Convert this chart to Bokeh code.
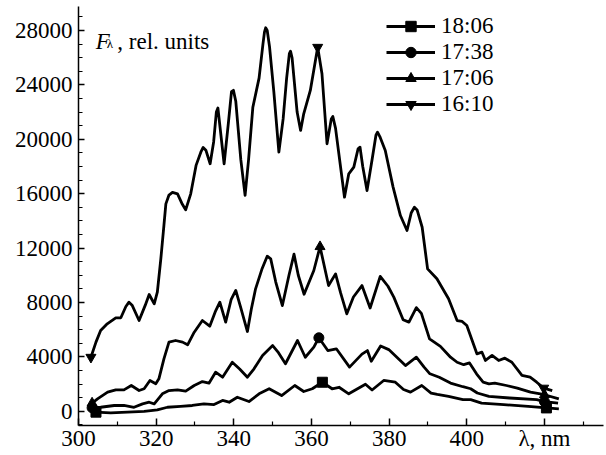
from bokeh.plotting import figure
from bokeh.models import Legend, LegendItem, Label, FixedTicker, Range1d
from bokeh.embed import file_html
from bokeh.resources import INLINE

# ---------------- data ----------------
series_labels = ["18:06", "17:38", "17:06", "16:10"]
series_markers = ["square", "circle", "triangle", "inverted_triangle"]

x_1806 = [304.5, 308.3, 312.6, 316.9, 320.3, 322.9, 326.3, 329.3, 332.3, 334.9, 337.1, 338.8,
          340.9, 343.9, 346.5, 349.1, 352.3, 355.7, 358.0, 360.2, 362.8, 365.3, 367.1, 369.6,
          373.9, 375.6, 378.6, 381.6, 383.7, 385.5, 388.4, 390.8, 392.4, 395.3, 399.0, 401.0,
          403.8, 409.5, 415.8, 420.5, 423.7]
y_1806 = [-70, -120, -70, -20, 100, 290, 350, 420, 540, 490, 790, 660,
          1030, 710, 1280, 1650, 1150, 1890, 1450, 1650, 2130, 1650, 1760, 1280,
          1980, 1560, 2260, 2130, 1600, 1400, 1890, 1330, 1230, 1090, 850, 850,
          600, 480, 360, 240, 170]

x_1738 = [303.5, 305.7, 309.2, 311.7, 314.3, 316.5, 318.2, 319.5, 321.6, 323.3, 325.5, 327.6,
          329.8, 331.9, 333.6, 335.3, 337.1, 339.6, 341.5, 343.5, 345.2, 347.4, 350.0, 351.5,
          353.3, 356.4, 358.4, 360.6, 361.9, 364.2, 366.4, 369.8, 373.0, 374.4, 375.4, 377.8,
          379.9, 384.2, 387.0, 389.0, 390.5, 392.9, 395.8, 399.0, 401.0, 402.7, 405.7, 411.0,
          418.0, 420.0, 423.5]
y_1738 = [250, 290, 420, 420, 290, 540, 660, 540, 1280, 1520, 1570, 1470,
          1890, 2180, 2060, 2870, 2500, 3600, 3100, 2500, 3120, 4100, 4830, 4300,
          3490, 5200, 3970, 4710, 5400, 4460, 4590, 3240, 4200, 4460, 3670, 4800,
          4530, 3360, 3970, 3240, 2750, 2500, 2070, 1800, 1650, 1340, 1090, 970,
          850, 700, 600]

x_1706 = [303.5, 304.9, 307.5, 309.6, 311.7, 313.6, 315.6, 316.9, 318.4, 319.9, 320.7, 322.0,
          323.3, 325.0, 326.8, 328.1, 329.8, 331.9, 333.8, 335.2, 336.4, 337.9, 339.3, 340.5,
          341.8, 343.5, 344.5, 345.6, 347.3, 348.6, 349.5, 350.8, 352.5, 354.2, 355.5, 356.6,
          358.1, 360.6, 362.2, 364.4, 366.2, 367.5, 369.1, 370.8, 373.0, 375.1, 377.7, 379.7,
          381.2, 383.6, 385.1, 387.0, 388.3, 390.4, 393.2, 395.8, 397.5, 399.2, 400.7, 402.5,
          404.2, 405.7, 407.2, 410.2, 413.0, 416.4, 420.0, 423.7]
y_1706 = [600, 910, 1400, 1570, 1570, 1890, 1520, 1650, 2260, 2020, 2380, 3850,
          5080, 5200, 5080, 4880, 5810, 6670, 6250, 7300, 8020, 6550, 8200, 8880,
          7600, 5860, 7500, 9000, 10500, 11400, 11200, 9500, 7770, 10000, 11550, 10000,
          8600, 10350, 12100, 9240, 10100, 8700, 7160, 8400, 9240, 7590, 9920, 9190,
          8390, 6730, 6550, 7620, 7200, 5320, 4770, 3970, 3600, 3420, 3550, 2750,
          2140, 2010, 2070, 1890, 1700, 1400, 1210, 910]

x_1610 = [303.2, 304.5, 305.7, 307.4, 309.6, 310.9, 312.2, 313.0, 313.8, 315.6, 317.2, 318.2,
          319.5, 320.3, 321.2, 322.0, 322.5, 323.3, 324.2, 325.5, 326.6, 327.6, 328.9, 330.3,
          331.5, 332.1, 332.8, 333.9, 334.8, 335.5, 335.9, 336.6, 337.5, 338.6, 339.4, 339.9,
          340.5, 341.8, 342.9, 343.8, 344.9, 346.5, 347.5, 347.9, 348.2, 348.6, 349.2, 350.3,
          351.6, 352.7, 353.6, 354.3, 354.6, 355.0, 356.3, 357.2, 358.0, 359.7, 361.6, 362.7,
          364.0, 365.1, 365.5, 366.2, 368.5, 369.6, 370.9, 372.0, 372.5, 373.2, 374.3, 375.6,
          376.6, 377.0, 377.6, 379.0, 381.0, 382.9, 384.6, 385.7, 386.5, 387.2, 388.5, 389.9,
          392.3, 395.3, 397.5, 398.8, 400.0, 402.6, 403.9, 404.8, 406.5, 408.2, 409.8, 411.6,
          414.2, 416.3, 418.0, 419.8, 422.0]
y_1610 = [3970, 5080, 5930, 6430, 6870, 6870, 7700, 8020, 7800, 6670, 7800, 8580,
          7900, 8750, 11200, 13660, 15250, 15900, 16100, 15990, 15300, 14810, 15990, 18100,
          19050, 19400, 19200, 18200, 19800, 22000, 22300, 20500, 18200, 21200, 23500, 23600,
          22800, 18500, 15870, 18500, 22360, 24500, 27000, 27900, 28200, 28000, 26800, 23500,
          19050, 21500, 24500, 26300, 26480, 26000, 22000, 20650, 21870, 23590, 26770, 24820,
          19670, 21500, 21680, 20800, 15740, 17460, 17950, 19300, 19420, 18000, 16230, 18500,
          20300, 20520, 20200, 19170, 16500, 14390, 13290, 14600, 15000, 14800, 13530, 10470,
          9740, 8270, 6670, 6600, 6300, 4220, 4340, 3730, 4100, 3730, 3900, 3600,
          2630, 2500, 2130, 1700, 1520]

# marker positions (start, peak, end) of each series
mx_1806 = [304.5, 362.8, 420.5]
my_1806 = [-70, 2130, 240]
mx_1738 = [303.5, 361.9, 420.0]
my_1738 = [250, 5400, 700]
mx_1706 = [303.5, 362.2, 420.0]
my_1706 = [600, 12100, 1210]
mx_1610 = [303.2, 361.6, 419.8]
my_1610 = [3970, 26770, 1700]

x_ticks = [300, 320, 340, 360, 380, 400, 420]
x_minor = [310, 330, 350, 370, 390, 410, 430]
y_ticks = [0, 4000, 8000, 12000, 16000, 20000, 24000, 28000]
y_minor = list(range(-1000, 30000, 1000))

series = [
    (x_1806, y_1806, mx_1806, my_1806),
    (x_1738, y_1738, mx_1738, my_1738),
    (x_1706, y_1706, mx_1706, my_1706),
    (x_1610, y_1610, mx_1610, my_1610),
]

FONT = "'Liberation Serif', 'DejaVu Serif', serif"
FS = "23px"

p = figure(width=606, height=455,
           x_range=Range1d(300, 435.2), y_range=Range1d(-1052, 29766),
           output_backend="svg", toolbar_location=None,
           min_border_left=78, min_border_right=3, min_border_top=6, min_border_bottom=30)
p.outline_line_color = None
p.xgrid.visible = False
p.ygrid.visible = False
p.background_fill_color = "white"
p.border_fill_color = "white"

for ax in (p.xaxis[0], p.yaxis[0]):
    ax.axis_line_width = 1.5
    ax.axis_line_color = "black"
    ax.major_tick_line_width = 1.5
    ax.minor_tick_line_width = 1.2
    ax.major_tick_line_color = "black"
    ax.minor_tick_line_color = "black"
    ax.major_tick_out = 0
    ax.minor_tick_out = 0
    ax.major_label_text_font = FONT
    ax.major_label_text_font_size = FS
    ax.major_label_text_color = "black"

p.xaxis[0].ticker = FixedTicker(ticks=x_ticks, minor_ticks=x_minor)
p.xaxis[0].major_tick_in = 7
p.xaxis[0].minor_tick_in = 4
p.xaxis[0].major_label_standoff = 0
p.xaxis[0].major_label_overrides = {420: "λ, nm"}

p.yaxis[0].ticker = FixedTicker(ticks=y_ticks, minor_ticks=y_minor)
p.yaxis[0].major_tick_in = 6
p.yaxis[0].minor_tick_in = 4
p.yaxis[0].major_label_standoff = 6

items = []
for (xs, ys, mxs, mys), lab, mk in zip(series, series_labels, series_markers):
    lr = p.line(xs, ys, line_color="black", line_width=2.8, line_join="round")
    sr = p.scatter(mxs, mys, marker=mk, size=10, fill_color="black", line_color="black")
    items.append(LegendItem(label=lab, renderers=[lr, sr]))

legend = Legend(items=items, location=(308, 308),
                border_line_color=None, background_fill_alpha=0,
                glyph_width=49, glyph_height=26, label_height=26, spacing=0,
                padding=0, margin=0, label_standoff=6,
                label_text_font=FONT, label_text_font_size=FS,
                label_text_color="black", label_text_baseline="middle")
p.add_layout(legend)

p.add_layout(Label(x=304.45, y=27190, text="F", text_font=FONT, text_font_style="italic",
                   text_font_size=FS, text_color="black", text_baseline="alphabetic"))
p.add_layout(Label(x=307.3, y=27040, text="λ", text_font=FONT,
                   text_font_size="13px", text_color="black", text_baseline="alphabetic"))
p.add_layout(Label(x=310.0, y=27190, text=", rel. units", text_font=FONT,
                   text_font_size=FS, text_color="black", text_baseline="alphabetic"))

open("out.html", "w").write(file_html(p, INLINE))
